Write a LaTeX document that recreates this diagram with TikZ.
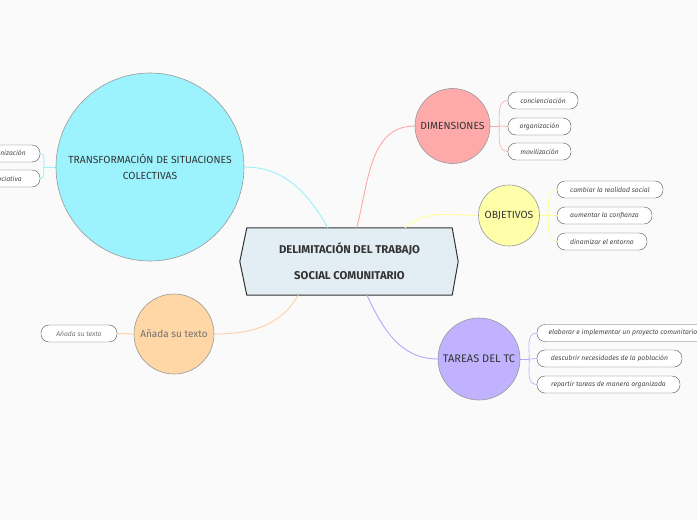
\documentclass[tikz,border=0pt]{standalone}
\usepackage{fontspec}
\setmainfont{Fira Sans}
\usetikzlibrary{calc,backgrounds}
\definecolor{bgc}{HTML}{FAFAFA}
\definecolor{cyanf}{HTML}{9CF3FD}
\definecolor{pinkf}{HTML}{FFAAAA}
\definecolor{yellf}{HTML}{FFFFAA}
\definecolor{lavf}{HTML}{C0B2FF}
\definecolor{orf}{HTML}{FFD6A6}
\definecolor{centf}{HTML}{E2EEF4}
\definecolor{cyanl}{HTML}{9BEFF8}
\definecolor{pinkl}{HTML}{FFA8A8}
\definecolor{yelll}{HTML}{FFFF99}
\definecolor{lavl}{HTML}{B7A6FF}
\definecolor{orl}{HTML}{FFD0A0}
\definecolor{txt}{HTML}{333333}
\tikzset{
  x=1pt,y=1pt,
  bubble/.style={circle,draw=gray!80,line width=0.6pt,inner sep=0pt,align=center,text=txt,font=\fontsize{10.3}{16}\selectfont},
  pill/.style={draw=gray!70!black,fill=white,rounded corners=8pt,minimum height=17pt,inner sep=0pt,text=txt!90,font=\itshape\fontsize{6.8}{8}\selectfont},
  conn/.style={line width=0.9pt},
}
\begin{document}
\begin{tikzpicture}
\useasboundingbox (0,0) rectangle (697,-520);
% central node
\node[minimum width=205pt,minimum height=67pt,inner sep=0pt,align=center,text=txt,font=\bfseries\fontsize{11.3}{26}\selectfont] (c) at (349.5,-261.5) {DELIMITACIÓN DEL TRABAJO\\SOCIAL COMUNITARIO};
% circles
\node[bubble,fill=cyanf,minimum size=188pt] (trans) at (150,-167) {TRANSFORMACIÓN DE SITUACIONES\\COLECTIVAS};
\node[bubble,fill=pinkf,minimum size=75pt] (dim) at (452.5,-126) {DIMENSIONES};
\node[bubble,fill=yellf,minimum size=61pt] (obj) at (509,-215.5) {OBJETIVOS};
\node[bubble,fill=lavf,minimum size=82pt,font=\fontsize{11}{13}\selectfont] (tar) at (479,-359) {TAREAS DEL TC};
\node[bubble,fill=orf,minimum size=80pt,text=gray!90!black,font=\fontsize{10}{12}\selectfont] (ana) at (174,-334) {Añada su texto};
% pills
\node[pill,minimum width=68pt] (lp1) at (6,-153.5) {organización};
\node[pill,minimum width=68pt] (lp2) at (6,-178.5) {asociativa};
\node[pill,minimum width=70pt] (d1) at (543,-100.5) {concienciación};
\node[pill,minimum width=63pt] (d2) at (539.5,-126.5) {organización};
\node[pill,minimum width=63pt] (d3) at (539.5,-151.5) {movilización};
\node[pill,minimum width=106pt] (o1) at (610,-189.5) {cambiar la realidad social};
\node[pill,minimum width=95pt] (o2) at (604.5,-215.5) {aumentar la confianza};
\node[pill,minimum width=90pt] (o3) at (602,-241.5) {dinamizar el entorno};
\node[pill,minimum width=172pt] (t1) at (623,-333) {elaborar e implementar un proyecto comunitario};
\node[pill,minimum width=145pt] (t2) at (609.5,-358.5) {descubrir necesidades de la población};
\node[pill,minimum width=143pt] (t3) at (608.5,-384.5) {repartir tareas de manera organizada};
\node[pill,minimum width=76pt,text=gray!90!black] (ap) at (79,-333.5) {Añada su texto};
\begin{scope}[on background layer]
\fill[bgc] (0,0) rectangle (697,-520);
% central hexagon
\draw[fill=centf,draw=txt,line width=1pt,line join=round] (c.north west) -- (c.north east) -- ($(c.east)+(6,0)$) -- (c.south east) -- (c.south west) -- ($(c.west)+(-7,0)$) -- cycle;
% main connectors
\draw[conn,cyanl] ($(c.north west)!0.395!(c.north east)$) to[out=120,in=0] (trans.east);
\draw[conn,pinkl] ($(c.north west)!0.535!(c.north east)$) to[out=75,in=180] (dim.west);
\draw[conn,yelll] ($(c.north west)!0.77!(c.north east)$) to[out=40,in=180] (obj.west);
\draw[conn,lavl] ($(c.south west)!0.585!(c.south east)$) to[out=-65,in=180] (tar.west);
\draw[conn,orl] ($(c.south west)!0.25!(c.south east)$) to[out=-120,in=0] (ana.east);
% branches
\draw[conn,cyanl] (trans.west) -- ++(-12,0) coordinate (tj);
\draw[conn,cyanl] (tj) to[out=90,in=0] (lp1.east);
\draw[conn,cyanl] (tj) to[out=-90,in=0] (lp2.east);
\draw[conn,pinkl,line width=0.6pt] (dim.east) -- ++(9,0) coordinate (dj);
\draw[conn,pinkl,line width=0.6pt] (dj) to[out=90,in=180] (d1.west);
\draw[conn,pinkl,line width=0.6pt] (dj) -- (d2.west);
\draw[conn,pinkl,line width=0.6pt] (dj) to[out=-90,in=180] (d3.west);
\draw[conn,yelll,line width=0.6pt] (obj.east) -- ++(9,0) coordinate (oj);
\draw[conn,yelll,line width=0.6pt] (oj) to[out=90,in=180] (o1.west);
\draw[conn,yelll,line width=0.6pt] (oj) -- (o2.west);
\draw[conn,yelll,line width=0.6pt] (oj) to[out=-90,in=180] (o3.west);
\draw[conn,lavl,line width=0.6pt] (tar.east) -- ++(9,0) coordinate (kj);
\draw[conn,lavl,line width=0.6pt] (kj) to[out=90,in=180] (t1.west);
\draw[conn,lavl,line width=0.6pt] (kj) -- (t2.west);
\draw[conn,lavl,line width=0.6pt] (kj) to[out=-90,in=180] (t3.west);
\draw[conn,orl] (ana.west) -- (ap.east);
\end{scope}
\end{tikzpicture}
\end{document}
